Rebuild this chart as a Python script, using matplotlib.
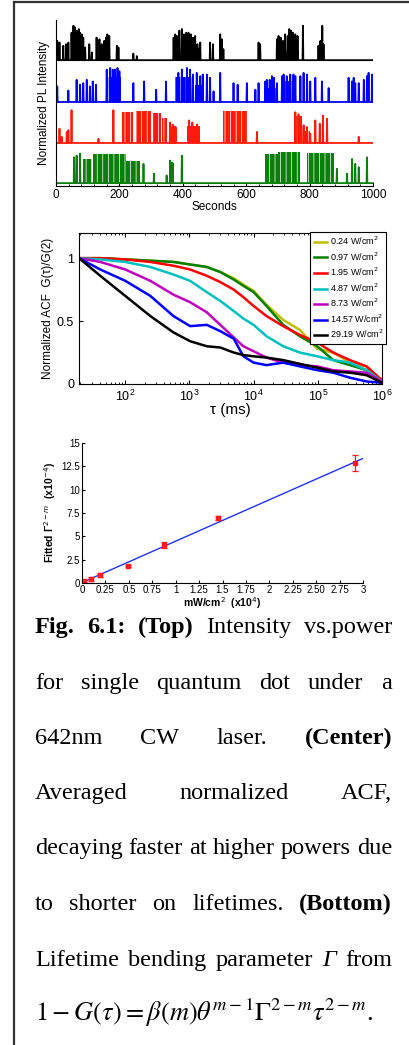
import matplotlib
matplotlib.use('Agg')
import matplotlib.pyplot as plt
from matplotlib.lines import Line2D
import numpy as np

W, H = 409, 1045

# ---- top panel: blinking traces (time s, height of spike) ----
black_t = [4, 11, 23, 32, 39, 49, 55, 60, 65, 72, 76, 81, 86, 92, 105, 113, 128, 137, 144, 152,
           158, 162, 168, 192, 197, 244, 255, 371, 376, 381, 389, 397, 404, 411, 418, 425, 432,
           439, 446, 455, 486, 495, 518, 523, 528, 639, 644, 697, 702, 709, 716, 723, 731, 736,
           741, 747, 755, 762, 779, 828, 834, 840, 844]
black_h = [0.47, 0.43, 0.35, 0.39, 0.43, 0.67, 0.84, 0.8, 0.72, 0.76, 0.67, 0.63, 0.55, 0.31, 0.39,
           0.19, 0.55, 0.51, 0.39, 0.47, 0.55, 0.63, 0.59, 0.35, 0.31, 0.16, 0.1, 0.55, 0.63, 0.59,
           0.72, 0.76, 0.63, 0.67, 0.67, 0.63, 0.55, 0.59, 0.39, 0.43, 0.43, 0.39, 0.63, 0.51, 0.27,
           0.43, 0.39, 0.51, 0.59, 0.55, 0.47, 0.63, 0.59, 0.76, 0.72, 0.67, 0.63, 0.59, 0.84, 0.35,
           0.47, 0.84, 0.39]
black_blocks = [(46, 95, 0.3), (371, 455, 0.3), (697, 765, 0.22), (828, 846, 0.2)]

blue_t = [4, 39, 65, 76, 86, 97, 107, 116, 126, 160, 171, 179, 186, 194, 200, 244, 278, 316, 347,
          386, 397, 413, 423, 432, 444, 455, 463, 476, 486, 497, 518, 560, 573, 602, 629, 639,
          660, 665, 674, 681, 688, 697, 713, 718, 728, 739, 749, 755, 771, 781, 792, 802, 818,
          839, 860, 923, 934, 939, 944, 955, 971, 981, 986, 997]
blue_h = [0.38, 0.28, 0.54, 0.42, 0.46, 0.54, 0.38, 0.5, 0.42, 0.79, 0.83, 0.79, 0.79, 0.83, 0.75,
          0.46, 0.5, 0.3, 0.5, 0.71, 0.79, 0.83, 0.79, 0.67, 0.71, 0.63, 0.67, 0.67, 0.59, 0.26,
          0.71, 0.46, 0.42, 0.46, 0.3, 0.46, 0.5, 0.54, 0.54, 0.63, 0.59, 0.46, 0.63, 0.67, 0.63,
          0.67, 0.67, 0.63, 0.63, 0.71, 0.67, 0.5, 0.59, 0.5, 0.34, 0.59, 0.5, 0.59, 0.46, 0.46,
          0.54, 0.63, 0.71, 0.67]
blue_blocks = [(158, 206, 0.62), (375, 434, 0.6), (440, 460, 0.42), (655, 700, 0.35),
               (713, 757, 0.5)]

red_t = [11, 18, 34, 39, 49, 134, 181, 360, 368, 376, 420, 430, 445, 634, 755, 765, 781, 792,
         802, 818, 832, 842, 855, 955]
red_h = [0.35, 0.15, 0.27, 0.31, 0.8, 0.1, 0.8, 0.5, 0.45, 0.4, 0.55, 0.5, 0.45, 0.27, 0.75, 0.7,
         0.43, 0.39, 0.23, 0.55, 0.47, 0.67, 0.59, 0.15]
red_blocks = [(207, 244, 0.75), (252, 300, 0.78), (305, 330, 0.72), (335, 349, 0.62),
              (355, 381, 0.4), (413, 455, 0.42), (528, 602, 0.78), (752, 776, 0.65),
              (776, 800, 0.3)]

green_t = [57, 65, 76, 276, 309, 349, 360, 366, 397, 886, 918, 934, 944, 955, 981]
green_h = [0.63, 0.67, 0.72, 0.47, 0.23, 0.19, 0.55, 0.5, 0.67, 0.35, 0.23, 0.59, 0.47, 0.39, 0.63]
green_blocks = [(86, 115, 0.6), (118, 220, 0.72), (222, 265, 0.55), (355, 371, 0.48),
                (660, 700, 0.7), (700, 770, 0.75), (792, 876, 0.74)]

trace_offsets = [3.07, 2.05, 1.05, 0.07]
trace_colors = ['black', '#0000ff', '#ff1a0a', '#0a800a']

# ---- middle panel: ACF curves ----
log_tau = [1.28, 1.61, 2.0, 2.39, 2.75, 3.01, 3.27, 3.48, 3.69, 3.84, 4.0, 4.2, 4.46, 4.72,
           4.99, 5.24, 5.5, 5.76, 6.0]
acf_024 = [1.0, 1.0, 0.99, 0.98, 0.97, 0.95, 0.93, 0.89, 0.84, 0.79, 0.74, 0.63, 0.51, 0.43,
           0.28, 0.25, 0.17, 0.14, 0.02]
acf_097 = [1.0, 1.0, 0.99, 0.98, 0.97, 0.95, 0.93, 0.89, 0.83, 0.78, 0.73, 0.62, 0.47, 0.38,
           0.30, 0.19, 0.15, 0.11, 0.03]
acf_195 = [1.0, 1.0, 0.99, 0.97, 0.94, 0.91, 0.86, 0.81, 0.75, 0.69, 0.62, 0.54, 0.46, 0.39,
           0.33, 0.25, 0.19, 0.14, 0.03]
acf_487 = [1.0, 0.99, 0.97, 0.93, 0.87, 0.82, 0.73, 0.66, 0.58, 0.52, 0.47, 0.38, 0.30, 0.25,
           0.22, 0.19, 0.17, 0.11, 0.02]
acf_873 = [1.0, 0.97, 0.91, 0.82, 0.71, 0.65, 0.57, 0.47, 0.37, 0.30, 0.26, 0.21, 0.17, 0.15,
           0.14, 0.11, 0.10, 0.09, 0.02]
acf_1457 = [1.0, 0.91, 0.82, 0.70, 0.54, 0.46, 0.47, 0.42, 0.36, 0.22, 0.17, 0.15, 0.17, 0.14,
            0.11, 0.09, 0.05, 0.02, 0.01]
acf_2919 = [1.0, 0.86, 0.70, 0.54, 0.41, 0.34, 0.30, 0.29, 0.25, 0.23, 0.22, 0.21, 0.19, 0.16,
            0.13, 0.10, 0.09, 0.07, 0.01]
acf_labels = ['0.24 W/cm$^2$', '0.97 W/cm$^2$', '1.95 W/cm$^2$', '4.87 W/cm$^2$',
              '8.73 W/cm$^2$', '14.57 W/cm$^2$', '29.19 W/cm$^2$']
acf_colors = ['#bfbf00', '#008000', '#ff0000', '#00bfbf', '#bf00bf', '#0000ff', '#000000']

# ---- bottom panel: fitted parameter ----
power = [0.024, 0.097, 0.195, 0.487, 0.873, 1.457, 2.919]
gamma_fit = [0.2, 0.45, 0.85, 1.8, 4.05, 7.0, 12.85]
gamma_err = [0.1, 0.2, 0.2, 0.1, 0.3, 0.2, 0.9]
fit_x = [0.0, 3.0]
fit_y = [0.05, 13.35]

caption_lines = [
    [('Fig.', 'b'), ('6.1:', 'b'), ('(Top)', 'b'), ('Intensity', 'n'), ('vs.power', 'n')],
    [('for', 'n'), ('single', 'n'), ('quantum', 'n'), ('dot', 'n'), ('under', 'n'), ('a', 'n')],
    [('642nm', 'n'), ('CW', 'n'), ('laser.', 'n'), ('(Center)', 'b')],
    [('Averaged', 'n'), ('normalized', 'n'), ('ACF,', 'n')],
    [('decaying', 'n'), ('faster', 'n'), ('at', 'n'), ('higher', 'n'), ('powers', 'n'), ('due', 'n')],
    [('to', 'n'), ('shorter', 'n'), ('on', 'n'), ('lifetimes.', 'n'), ('(Bottom)', 'b')],
    [('Lifetime', 'n'), ('bending', 'n'), ('parameter', 'n'), ('\u0393', 'i'), ('from', 'n')],
]
caption_last = r'$1 - G(\tau) = \beta(m)\theta^{m-1}\Gamma^{2-m}\tau^{2-m}$.'

plt.rcParams['font.family'] = ['Liberation Sans', 'DejaVu Sans']
plt.rcParams['hatch.linewidth'] = 0.5


def box(l, t, r, b):
    return [l / W, 1 - b / H, (r - l) / W, (b - t) / H]


fig = plt.figure(figsize=(W / 100, H / 100), dpi=100)

# frame lines of the page
fig.add_artist(Line2D([14 / W, 14 / W], [0, 1 - 2 / H], color='#333333', lw=1.6))
fig.add_artist(Line2D([14 / W, 1], [1 - 2 / H, 1 - 2 / H], color='#333333', lw=1.6))

# ---------------- top ----------------
ax1 = fig.add_axes(box(56, 20, 373, 186))
traces = [(black_t, black_h, black_blocks), (blue_t, blue_h, blue_blocks),
          (red_t, red_h, red_blocks), (green_t, green_h, green_blocks)]
for (ts, hs, blocks), off, col in zip(traces, trace_offsets, trace_colors):
    xs = [0]
    ys = [off]
    for t, h in sorted(zip(ts, hs)):
        xs += [t - 1.2, t, t + 1.2]
        ys += [off, off + h, off]
    xs.append(1000)
    ys.append(off)
    ax1.plot(xs, ys, color=col, lw=1.3)
    for s, e, hi in blocks:
        ax1.fill_between([s, e], off, off + hi, facecolor=col, edgecolor='white',
                         hatch='|||', lw=0)
ax1.set_xlim(0, 1000)
ax1.set_ylim(0, 4.05)
ax1.spines['top'].set_visible(False)
ax1.spines['right'].set_visible(False)
ax1.set_yticks([])
ax1.set_xticks([0, 200, 400, 600, 800, 1000])
ax1.set_xticks(np.arange(0, 1001, 40), minor=True)
ax1.tick_params(axis='x', direction='in', labelsize=8.5, length=3, pad=2)
ax1.tick_params(axis='x', which='minor', direction='in', length=1.5)
ax1.set_xlabel('Seconds', fontsize=8.5, labelpad=0)
ax1.set_ylabel('Normalized PL Intensity', fontsize=8.5, labelpad=4)

# ---------------- middle ----------------
ax2 = fig.add_axes(box(79, 233, 382, 384))
tau = 10 ** np.array(log_tau)
for vals, lab, col in zip([acf_024, acf_097, acf_195, acf_487, acf_873, acf_1457, acf_2919],
                          acf_labels, acf_colors):
    ax2.plot(tau, vals, color=col, lw=1.8, label=lab)
ax2.set_xscale('log')
ax2.set_xlim(19, 1e6)
ax2.set_ylim(0, 1.2)
ax2.set_yticks([0, 0.5, 1])
ax2.set_yticklabels(['0', '0.5', '1'])
ax2.set_xticks([1e2, 1e3, 1e4, 1e5, 1e6])
ax2.tick_params(which='both', direction='in', top=True, right=True, labelsize=9)
ax2.tick_params(which='major', length=3)
ax2.tick_params(which='minor', length=1.5)
ax2.set_xlabel('\u03c4 (ms)', fontsize=11, labelpad=-1)
ax2.set_ylabel('Normalized ACF  G(\u03c4)/G(2)', fontsize=8.5, labelpad=2)
leg = ax2.legend(loc='upper right', bbox_to_anchor=(391 / W, 1 - 227 / H),
                 bbox_transform=fig.transFigure, fontsize=6.5, handlelength=1.5,
                 handletextpad=0.3, labelspacing=0.35, borderpad=0.35, fancybox=False,
                 edgecolor='black', framealpha=1)
leg.get_frame().set_linewidth(0.8)

# ---------------- bottom ----------------
ax3 = fig.add_axes(box(82, 443, 363, 583))
ax3.plot(fit_x, fit_y, color='#2233ee', lw=1.0)
ax3.errorbar(power, gamma_fit, yerr=gamma_err, fmt='s', color='#ff1a1a', ms=2.2,
             capsize=2, elinewidth=0.9, capthick=0.9)
ax3.set_xlim(0, 3)
ax3.set_ylim(0, 15)
ax3.spines['top'].set_visible(False)
ax3.spines['right'].set_visible(False)
ax3.set_xticks(np.arange(0, 3.01, 0.25))
ax3.set_xticklabels(['0', '0.25', '0.5', '0.75', '1', '1.25', '1.5', '1.75', '2', '2.25',
                     '2.50', '2.75', '3'])
ax3.set_yticks([0, 2.5, 5, 7.5, 10, 12.5, 15])
ax3.set_yticklabels(['0', '2.5', '5', '7.5', '10', '12.5', '15'])
ax3.tick_params(direction='in', labelsize=7, length=2, pad=1.5)
ax3.set_xlabel('mW/cm$^2$  (x10$^4$)', fontsize=7.5, fontweight='bold', labelpad=0)
ax3.set_ylabel('Fitted \u0393$^{2\u2212m}$  (x10$^{\u22124}$)', fontsize=7.5, fontweight='bold',
               labelpad=2)

# ---------------- caption (justified) ----------------
fig.canvas.draw()
renderer = fig.canvas.get_renderer()
left, right = 35, 392
line_base = [633, 689, 744, 799, 854, 910, 966]
cap_size = 17.5
for words, yy in zip(caption_lines, line_base):
    arts = []
    for w, sty in words:
        t = fig.text(0, 1 - yy / H, w, fontsize=cap_size, family='Liberation Serif',
                     fontweight='bold' if sty == 'b' else 'normal',
                     style='italic' if sty == 'i' else 'normal', va='baseline')
        arts.append(t)
    widths = [a.get_window_extent(renderer).width for a in arts]
    gap = (right - left - sum(widths)) / (len(arts) - 1)
    x = left
    for a, wd in zip(arts, widths):
        a.set_x(x / W)
        x += wd + gap
fig.text(left / W, 1 - 1021 / H, caption_last, fontsize=19, family='Liberation Serif',
         math_fontfamily='stix', va='baseline')

fig.savefig('out.png', dpi=100)
